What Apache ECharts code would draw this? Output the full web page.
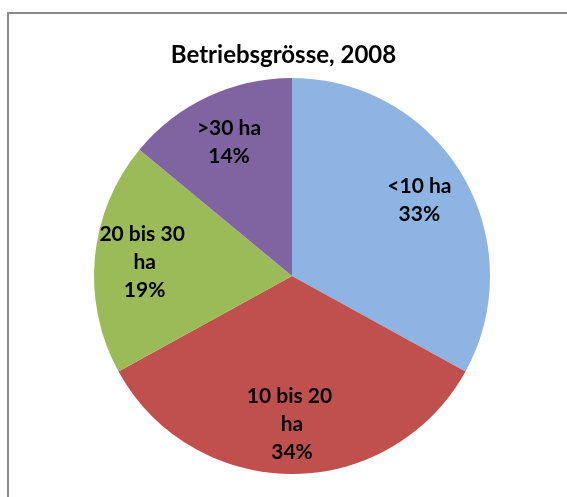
<!DOCTYPE html>
<html>
<head>
<meta charset="utf-8">
<script src="https://cdn.jsdelivr.net/npm/echarts@6/dist/echarts.min.js"></script>
<style>
  html, body { margin: 0; padding: 0; background: #fff; }
  #rahmen { position: absolute; left: 7px; top: 12px; width: 620px; height: 560px; border: 2px solid #8a8a8a; box-sizing: border-box; }
  #chart { position: absolute; left: 0; top: 0; width: 567px; height: 497px; }
</style>
</head>
<body>
<div id="rahmen"></div>
<div id="chart"></div>
<script>
  // Betriebsgrösse 2008, Anteile in %
  var klassen = ['<10 ha', '10 bis 20 ha', '20 bis 30 ha', '>30 ha'];
  var anteile = [33, 34, 19, 14];
  var farben = ['#8EB4E3', '#C0504D', '#9BBB59', '#8064A2'];

  var daten = klassen.map(function (k, i) {
    return { name: k, value: anteile[i], itemStyle: { color: farben[i] } };
  });

  var myChart = echarts.init(document.getElementById('chart'));
  var schrift = 'Lato, Carlito, "Open Sans", sans-serif';
  var option = {
    animation: false,
    title: {
      text: 'Betriebsgrösse, 2008',
      left: 'center',
      top: 38,
      textStyle: { fontFamily: schrift, fontWeight: 'bold', fontSize: 24, color: '#000' }
    },
    series: [
      {
        type: 'pie',
        center: [292, 276],
        radius: [0, 198],
        startAngle: 90,
        clockwise: true,
        silent: true,
        label: { show: false },
        labelLine: { show: false },
        itemStyle: { borderWidth: 0 },
        data: daten
      },
      {
        // unsichtbarer Ring, damit die Beschriftung weiter aussen sitzt
        type: 'pie',
        center: [292, 276],
        radius: [92, 198],
        startAngle: 90,
        clockwise: true,
        silent: true,
        itemStyle: { color: 'rgba(0,0,0,0)', borderWidth: 0 },
        labelLine: { show: false },
        label: {
          show: true,
          position: 'inside',
          formatter: '{b}\n{d}%',
          fontFamily: schrift,
          fontWeight: 'bold',
          fontSize: 21,
          lineHeight: 28,
          color: '#000',
          width: 95,
          overflow: 'break',
          align: 'center'
        },
        data: klassen.map(function (k, i) { return { name: k, value: anteile[i] }; })
      }
    ]
  };
  myChart.setOption(option);
</script>
</body>
</html>
